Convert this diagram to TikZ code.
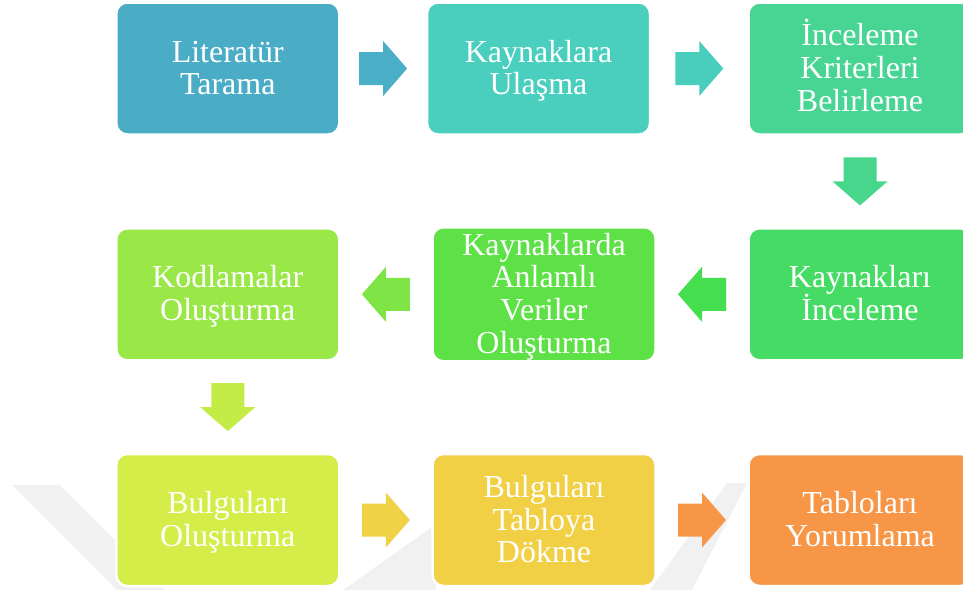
\documentclass[tikz,border=0pt]{standalone}
\usepackage{fontspec}
\setmainfont{Liberation Serif}
\usetikzlibrary{calc}
\definecolor{c1}{HTML}{4BACC6}
\definecolor{c2}{HTML}{4ACEBE}
\definecolor{c3}{HTML}{48D594}
\definecolor{c4}{HTML}{46DB64}
\definecolor{c5}{HTML}{5EE147}
\definecolor{c6}{HTML}{9AE848}
\definecolor{c7}{HTML}{D5ED48}
\definecolor{c8}{HTML}{F1D046}
\definecolor{c9}{HTML}{F79646}
\definecolor{a1}{HTML}{4AAEC6}
\definecolor{a2}{HTML}{49CDBD}
\definecolor{a3}{HTML}{48D68C}
\definecolor{a4}{HTML}{45DE4E}
\definecolor{a5}{HTML}{7FE546}
\definecolor{a6}{HTML}{C4EC47}
\definecolor{a7}{HTML}{F0D246}
\definecolor{a8}{HTML}{F79646}
\definecolor{wm}{HTML}{F1F1F1}
\newcommand{\T}{\rule{0pt}{28pt}}
\newcommand{\B}{\rule[-8pt]{0pt}{8pt}}
\tikzset{
  box/.style={rounded corners=11pt, draw=white, line width=2.5pt, fill=#1,
    text=white, minimum width=223pt, minimum height=132pt, inner sep=0pt,
    align=center,
    font={\fontsize{32}{32.7}\selectfont\lineskiplimit=-60pt\relax}},
  pics/blk/.style={code={\fill[#1] (-24,-16.5) -- (0,-16.5) -- (0,-27.5) -- (24,0) -- (0,27.5) -- (0,16.5) -- (-24,16.5) -- cycle;}}
}
\begin{document}
\begin{tikzpicture}[x=1pt,y=-1pt]
\useasboundingbox (0,0) rectangle (963,590);
\clip (0,0) rectangle (963,590);
% faint watermark
\fill[wm] (12,485) -- (60,485) -- (165,590) -- (117,590) -- cycle;
\fill[wm] (343,590) -- (436,524) -- (436,590) -- cycle;
\fill[wm] (650,590) -- (692,590) -- (747,483) -- (727,483) -- cycle;
% boxes
\node[box=c1] (b1) at (227.75,68.5) {\T Literatür\\Tarama\B};
\node[box=c2] (b2) at (538.5,68.5) {\T Kaynaklara\\Ulaşma\B};
\node[box=c3] (b3) at (860,68.5) {\T İnceleme\\Kriterleri\\Belirleme\B};
\node[box=c4] (b4) at (860,294.3) {\T Kaynakları\\İnceleme\B};
\node[box=c5] (b5) at (544,294.3) {\T Kaynaklarda\\Anlamlı\\Veriler\\Oluşturma\B};
\node[box=c6] (b6) at (227.75,294.3) {\T Kodlamalar\\Oluşturma\B};
\node[box=c7] (b7) at (227.75,520) {\T Bulguları\\Oluşturma\B};
\node[box=c8] (b8) at (544,520) {\T Bulguları\\Tabloya\\Dökme\B};
\node[box=c9] (b9) at (860,520) {\T Tabloları\\Yorumlama\B};
% block arrows
\pic at ($(b1.east)!0.5!(b2.west)$) {blk=a1};
\pic at ($(b2.east)!0.5!(b3.west)$) {blk=a2};
\pic[rotate=-90] at ($(b3.south)!0.5!(b4.north)$) {blk=a3};
\pic[rotate=180] at ($(b4.west)!0.5!(b5.east)$) {blk=a4};
\pic[rotate=180] at ($(b5.west)!0.5!(b6.east)$) {blk=a5};
\pic[rotate=-90] at ($(b6.south)!0.5!(b7.north)$) {blk=a6};
\pic at ($(b7.east)!0.5!(b8.west)$) {blk=a7};
\pic at ($(b8.east)!0.5!(b9.west)$) {blk=a8};
\end{tikzpicture}
\end{document}
